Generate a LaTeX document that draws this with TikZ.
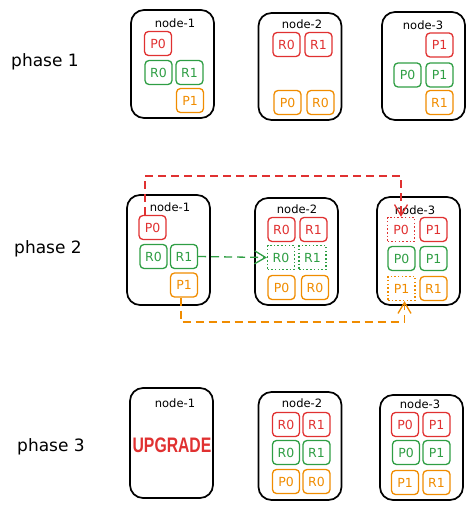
\documentclass[tikz,border=0pt]{standalone}
\usepackage{fontspec}
\setmainfont{DejaVu Sans}
\newfontfamily\upfont{Liberation Sans}
\usetikzlibrary{arrows.meta}
\definecolor{exred}{HTML}{E03131}
\definecolor{exgreen}{HTML}{2F9E44}
\definecolor{exorange}{HTML}{F08C00}
\begin{document}
\begin{tikzpicture}[x=1pt,y=-1pt,
  hostbox/.style={draw=black, line width=1.7pt, rounded corners=13pt, minimum width=83pt, minimum height=108pt, inner sep=0pt},
  hostlabel/.style={font=\fontsize{11.5}{13}\selectfont, inner sep=0pt},
  phaselabel/.style={font=\fontsize{17}{20}\selectfont, inner sep=0pt},
  part/.style={draw=#1, text=#1, line width=1.3pt, rounded corners=4pt, minimum width=27pt, minimum height=24pt, inner sep=0pt, font=\fontsize{12.5}{14}\selectfont},
  ghost/.style={part=#1, rounded corners=0pt, dash pattern=on 1.5pt off 2.2pt},
  move/.style={color=#1, line width=1.3pt, dash pattern=on 8pt off 5pt, -{Straight Barb[length=11pt,width=13pt,line width=1.3pt]}},
]
\useasboundingbox (0,0) rectangle (474,510);

% phase labels
\node[phaselabel] (ph1) at (45,62) {phase 1};
\node[phaselabel] (ph2) at (48,249) {phase 2};
\node[phaselabel] (ph3) at (51,447) {phase 3};

% ---------- phase 1 ----------
\node[hostbox, minimum height=108pt] (a1) at (172.5,64) {};
\node[hostlabel] (a1l) at (175,23) {node-1};
\node[part=exred] (a1p0) at (158,43.5) {P0};
\node[part=exgreen] (a1r0) at (158.5,72.5) {R0};
\node[part=exgreen] (a1r1) at (189.5,72.5) {R1};
\node[part=exorange] (a1p1) at (190,100.5) {P1};

\node[hostbox, minimum height=107pt] (a2) at (300,66.5) {};
\node[hostlabel] (a2l) at (302,24) {node-2};
\node[part=exred] (a2r0) at (286.5,44.5) {R0};
\node[part=exred] (a2r1) at (318.5,44.5) {R1};
\node[part=exorange] (a2p0) at (287.5,102.5) {P0};
\node[part=exorange] (a2r0b) at (320.5,102.5) {R0};

\node[hostbox, minimum height=108pt] (a3) at (423.5,66) {};
\node[hostlabel] (a3l) at (423,25) {node-3};
\node[part=exred] (a3p1) at (439.5,45) {P1};
\node[part=exgreen] (a3p0g) at (407.5,75) {P0};
\node[part=exgreen] (a3p1g) at (439.5,75) {P1};
\node[part=exorange] (a3r1) at (439.5,102.5) {R1};

% ---------- phase 2 ----------
\node[hostbox, minimum height=110pt] (b1) at (168.5,250) {};
\node[hostlabel] (b1l) at (170,207) {node-1};
\node[part=exred] (b1p0) at (152.5,227.5) {P0};
\node[part=exgreen] (b1r0) at (153.5,256.5) {R0};
\node[part=exgreen] (b1r1) at (184,256.5) {R1};
\node[part=exorange] (b1p1) at (184,285) {P1};

\node[hostbox, minimum height=107pt] (b2) at (296.5,251.5) {};
\node[hostlabel] (b2l) at (297,209) {node-2};
\node[part=exred] (b2r0) at (281.5,229.5) {R0};
\node[part=exred] (b2r1) at (313.5,229.5) {R1};
\node[ghost=exgreen] (b2r0g) at (281,257.5) {R0};
\node[ghost=exgreen] (b2r1g) at (312.5,257.5) {R1};
\node[part=exorange] (b2p0) at (281.5,287.5) {P0};
\node[part=exorange] (b2r0o) at (315,287.5) {R0};

\node[hostbox, minimum height=108pt] (b3) at (418.5,251) {};
\node[hostlabel] (b3l) at (415,210) {node-3};
\node[ghost=exred] (b3p0) at (401,229.5) {P0};
\node[part=exred] (b3p1) at (433.5,229.5) {P1};
\node[part=exgreen] (b3p0g) at (401.5,258.5) {P0};
\node[part=exgreen] (b3p1g) at (433.5,258.5) {P1};
\node[ghost=exorange] (b3p1o) at (401.5,288.5) {P1};
\node[part=exorange] (b3r1) at (433.5,288.5) {R1};

% moves
\coordinate (redtop) at (145,176);
\draw[move=exred] ([xshift=-7.5pt]b1p0.north) -- (redtop) -| (b3p0.north);
\draw[move=exgreen] (b1r1.east) -- (b2r0g.west);
\coordinate (orbot) at (181,322);
\draw[move=exorange] ([xshift=-3pt]b1p1.south) -- (orbot) -| ([xshift=3pt]b3p1o.south);

% ---------- phase 3 ----------
\node[hostbox, minimum height=110pt] (c1) at (171.5,443) {};
\node[hostlabel] (c1l) at (175,403) {node-1};
\node[inner sep=0pt, text=exred, font=\upfont\bfseries\fontsize{21}{24}\selectfont, xscale=0.75] (c1up) at (172,445) {UPGRADE};

\node[hostbox, minimum height=108pt] (c2) at (300,446) {};
\node[hostlabel] (c2l) at (302,403) {node-2};
\node[part=exred] (c2r0) at (286,424.5) {R0};
\node[part=exred] (c2r1) at (316.5,424.5) {R1};
\node[part=exgreen] (c2r0g) at (286,452.5) {R0};
\node[part=exgreen] (c2r1g) at (316.5,452.5) {R1};
\node[part=exorange] (c2p0) at (286,481.5) {P0};
\node[part=exorange] (c2r0o) at (316.5,481.5) {R0};

\node[hostbox, minimum height=105pt] (c3) at (421.5,447.5) {};
\node[hostlabel] (c3l) at (420,404) {node-3};
\node[part=exred] (c3p0) at (405,424.5) {P0};
\node[part=exred] (c3p1) at (436.5,424.5) {P1};
\node[part=exgreen] (c3p0g) at (406,452.5) {P0};
\node[part=exgreen] (c3p1g) at (436.5,452.5) {P1};
\node[part=exorange] (c3p1o) at (405,482.5) {P1};
\node[part=exorange] (c3r1) at (436.5,482.5) {R1};
\end{tikzpicture}
\end{document}
